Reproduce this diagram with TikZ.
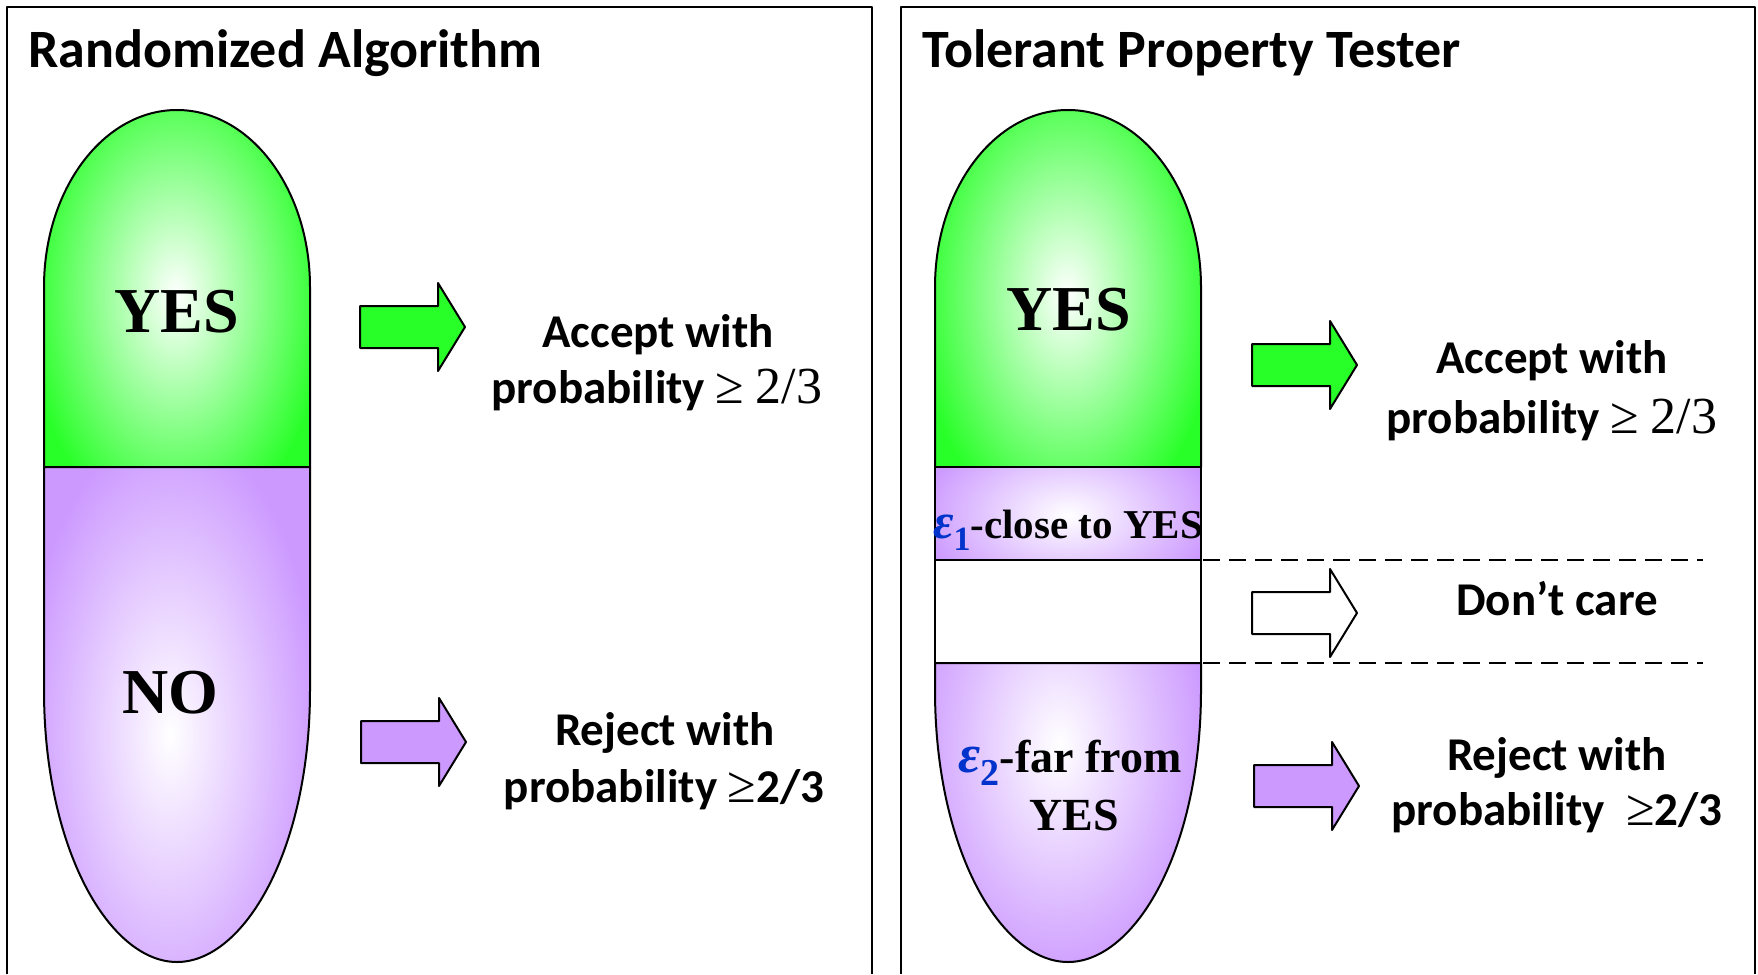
\documentclass[tikz,border=0pt]{standalone}
\usepackage{fontspec}
\newfontfamily\calib{Carlito}
\newfontfamily\timesb{Liberation Serif}
\definecolor{yesgreen}{RGB}{40,255,40}
\definecolor{nopurple}{RGB}{204,153,255}
\definecolor{epsblue}{RGB}{0,51,204}
\newcommand{\geqsign}{{\timesb\mdseries ≥}}
\newcommand{\epsub}[2]{\textcolor{epsblue}{{\fontsize{#1}{#1}\selectfont\textit{ε}}\raisebox{-0.3em}{\fontsize{#2}{#2}\selectfont #2}}}
\newcommand{\epsi}[3]{\textcolor{epsblue}{{\fontsize{#1}{#1}\selectfont\textit{ε}}\raisebox{-0.3em}{\fontsize{#2}{#2}\selectfont #3}}}
\tikzset{
  blockarrow/.pic={\path[pic actions] (0,-21) -- (78,-21) -- (78,-44) -- (105,0)
    -- (78,44) -- (78,21) -- (0,21) -- cycle;}
}

\begin{document}
\begin{tikzpicture}[x=1pt, y=-1pt, line join=round,
  frame/.style = {line width=1.6pt},
  outline/.style = {draw=black, line width=2pt},
  dashline/.style = {line width=2pt, dash pattern=on 17pt off 9pt},
  fatarrow/.style = {draw=black, line width=2pt},
  titletxt/.style = {font=\fontsize{54}{60}\selectfont\calib\bfseries,
      inner sep=0pt, anchor=base west},
  sanstxt/.style = {font=\fontsize{47}{56}\selectfont\calib\bfseries,
      inner sep=0pt, anchor=base},
  serifbig/.style = {font=\fontsize{64}{70}\selectfont\timesb\bfseries,
      inner sep=0pt, anchor=base},
  seriftxt/.style = {font=\fontsize{46}{50}\selectfont\timesb\bfseries,
      inner sep=0pt, anchor=base}
  ]
  \useasboundingbox (0,0) rectangle (1758,974);
  % panels
  \draw[frame] (7,974) -- (7,7) -- (872,7) -- (872,974);
  \draw[frame] (901,974) -- (901,7) -- (1755,7) -- (1755,974);
  % green caps of both pills
  \foreach \dx in {0,891} {
    \begin{scope}[xshift=\dx]
      \begin{scope}
        \clip (44,467) -- (44,287) arc[start angle=180, end angle=360,
          x radius=133, y radius=177] -- (310,467) -- cycle;
        \fill[yesgreen] (0,0) rectangle (400,500);
        \shade[inner color=white, outer color=yesgreen]
          (176,295) ellipse[x radius=150, y radius=240];
      \end{scope}
      \draw[outline] (44,467) -- (44,287) arc[start angle=180, end angle=360,
          x radius=133, y radius=177] -- (310,467);
    \end{scope}
  }
  % left pill, lower half
  \begin{scope}
    \clip (44,467) -- (44,690) .. controls (44,850) and (110,962) .. (177,962)
      .. controls (244,962) and (310,850) .. (310,690) -- (310,467) -- cycle;
    \fill[nopurple] (0,400) rectangle (400,1000);
    \shade[inner color=white, outer color=nopurple]
      (170,735) ellipse[x radius=150, y radius=310];
  \end{scope}
  \draw[outline] (44,467) -- (44,690) .. controls (44,850) and (110,962) .. (177,962)
      .. controls (244,962) and (310,850) .. (310,690) -- (310,467) -- cycle;
  % right pill, lower half
  \begin{scope}[xshift=891]
    \begin{scope}
      \clip (44,467) rectangle (310,560);
      \fill[nopurple] (0,400) rectangle (400,600);
      \shade[inner color=white, outer color=nopurple]
        (177,515) ellipse[x radius=150, y radius=90];
    \end{scope}
    \draw[outline] (44,467) rectangle (310,560);
    \draw[outline, fill=white] (44,560) rectangle (310,663);
    \begin{scope}
      \clip (44,663) -- (44,690) .. controls (44,850) and (110,962) .. (177,962)
        .. controls (244,962) and (310,850) .. (310,690) -- (310,663) -- cycle;
      \fill[nopurple] (0,600) rectangle (400,1000);
      \shade[inner color=white, outer color=nopurple]
        (168,745) ellipse[x radius=150, y radius=240];
    \end{scope}
    \draw[outline] (44,663) -- (44,690) .. controls (44,850) and (110,962) .. (177,962)
        .. controls (244,962) and (310,850) .. (310,690) -- (310,663) -- cycle;
  \end{scope}
  \draw[dashline] (1203,560) -- (1703,560);
  \draw[dashline] (1203,663) -- (1703,663);
  % block arrows
  \pic[fatarrow, fill=yesgreen] (arrAacc) at (360,327) {blockarrow};
  \pic[fatarrow, fill=nopurple] (arrArej) at (361,742) {blockarrow};
  \pic[fatarrow, fill=yesgreen] (arrBacc) at (1252,365) {blockarrow};
  \pic[fatarrow, fill=white] (arrBdc) at (1252,613) {blockarrow};
  \pic[fatarrow, fill=nopurple] (arrBrej) at (1254,786) {blockarrow};
  % texts
  \node[titletxt] (ttlA) at (28,67) {Randomized Algorithm};
  \node[titletxt] (ttlB) at (922,67) {Tolerant Property Tester};
  \node[serifbig] (yesA) at (177,332) {YES};
  \node[serifbig] (noA) at (170,713) {NO};
  \node[serifbig] (yesB) at (1069,330) {YES};
  \node[seriftxt, font=\fontsize{41}{44}\selectfont\timesb\bfseries] (closeB)
    at (1068,538) {\epsi{50}{34}{1}-close to YES};
  \node[seriftxt] (farB) at (1070,772) {\epsi{54}{38}{2}-far from};
  \node[seriftxt] (farBb) at (1074,830) {YES};
  \node[sanstxt] (accA) at (658,347) {Accept with};
  \node[sanstxt] (accAb) at (657,403)
    {probability {\fontsize{52}{56}\selectfont\geqsign\ {\timesb\mdseries 2/3}}};
  \node[sanstxt] (rejA) at (665,745) {Reject with};
  \node[sanstxt] (rejAb) at (664,802) {probability {\fontsize{52}{56}\selectfont\geqsign}2/3};
  \node[sanstxt] (accB) at (1552,373) {Accept with};
  \node[sanstxt] (accBb) at (1552,433)
    {probability {\fontsize{52}{56}\selectfont\geqsign\ {\timesb\mdseries 2/3}}};
  \node[sanstxt] (dcB) at (1557,615) {Don’t care};
  \node[sanstxt] (rejB) at (1557,770) {Reject with};
  \node[sanstxt] (rejBb) at (1557,825) {probability \ {\fontsize{52}{56}\selectfont\geqsign}2/3};
\end{tikzpicture}
\end{document}
